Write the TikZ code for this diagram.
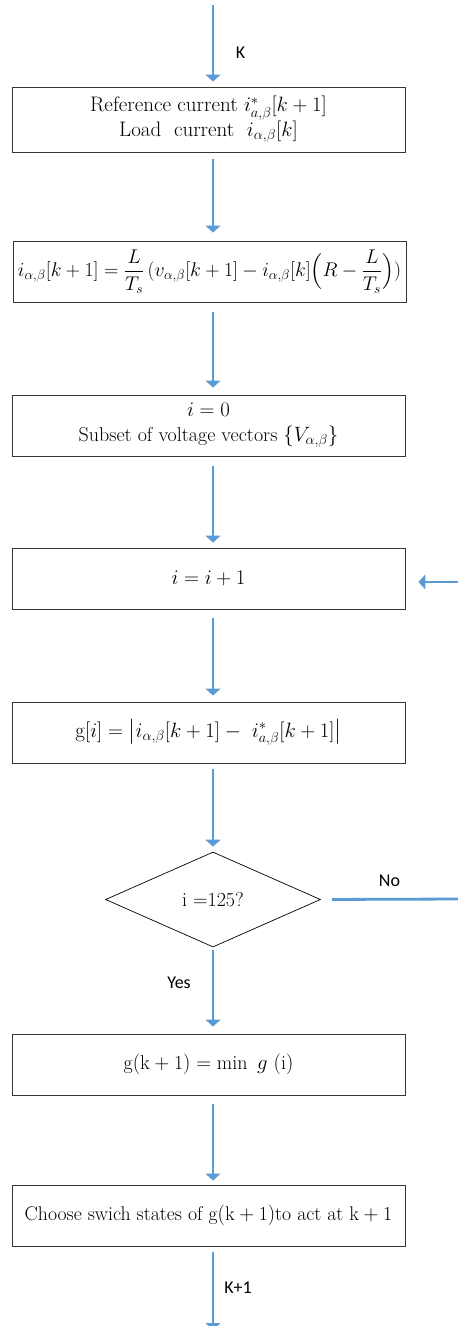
\documentclass[tikz,border=0pt]{standalone}
\usepackage{amsmath}
\usepackage{graphicx}
\usepackage{fontspec}
\newfontfamily\labelfont{Carlito}
\usetikzlibrary{arrows.meta,shapes.geometric}
\definecolor{flowblue}{RGB}{91,155,213}
\definecolor{boxgray}{RGB}{55,55,55}

\begin{document}
\begin{tikzpicture}[x=1pt,y=-1pt,
  procbox/.style={draw=boxgray, line width=0.9pt, minimum width=393pt,
    minimum height=61pt, align=center, inner sep=1pt,
    font=\fontsize{21}{25}\selectfont},
  decision/.style={draw=black, line width=0.7pt, diamond,
    minimum width=215pt, minimum height=95pt, inner sep=0pt,
    font=\fontsize{20}{22}\selectfont},
  flowline/.style={draw=flowblue, line width=2.8pt},
  flow/.style={flowline, -{Triangle[width=15pt,length=7pt]}},
  tag/.style={font=\labelfont\fontsize{18}{20}\selectfont, inner sep=1pt}]

\useasboundingbox (0,0) rectangle (458,1326);

% process steps
\node[procbox, minimum height=65pt] (ref) at (208.5,119.5)
  {Reference current $i^{*}_{a,\beta}[k+1]$\\
   Load\ \ current\ \ $i_{\alpha,\beta}[k]$};
\node[procbox] (pred) at (209.5,271.5)
  {\scalebox{0.955}{$i_{\alpha,\beta}[k+1]=\dfrac{L}{T_s}\,(v_{\alpha,\beta}[k+1]-i_{\alpha,\beta}[k]\Bigl(R-\dfrac{L}{T_s}\Bigr))$}};
\node[procbox, font=\fontsize{20}{25}\selectfont] (init) at (208.5,425.5)
  {$i=0$\\ Subset of voltage vectors $\{V_{\alpha,\beta}\}$};
\node[procbox] (incr) at (208.5,578.5) {$i=i+1$};
\node[procbox] (cost) at (208.5,732.5)
  {$\mathrm{g}[i]=\bigl|i_{\alpha,\beta}[k+1]-\ i^{*}_{a,\beta}[k+1]\bigr|$};
\node[decision] (test) at (213,899.5) {i =125?};
\node[procbox, font=\fontsize{20}{24}\selectfont] (mini) at (208.5,1064.5)
  {$\mathrm{g(k+1)}=\min\ g\ (\mathrm{i})$};
\node[procbox, font=\fontsize{19.8}{24}\selectfont] (act) at (208.5,1215.5)
  {Choose swich states of $\mathrm{g(k+1)}$to act at $\mathrm{k+1}$};

% free ends
\coordinate (start) at (213,5);
\coordinate (finish) at (213,1330);
\coordinate (noend) at (459,899);
\coordinate (loopin) at (459,582);

% main flow
\draw[flow, shorten >=5pt] (start) -- ([xshift=4.5pt]ref.north);
\draw[flow, shorten <=7pt, shorten >=8pt] ([xshift=4.5pt]ref.south) -- ([xshift=3.5pt]pred.north);
\draw[flow, shorten <=10pt, shorten >=7pt] ([xshift=3.5pt]pred.south) -- ([xshift=4.5pt]init.north);
\draw[flow, shorten <=10pt, shorten >=5pt] ([xshift=4.5pt]init.south) -- ([xshift=4.5pt]incr.north);
\draw[flow, shorten <=9pt, shorten >=6pt] ([xshift=4.5pt]incr.south) -- ([xshift=4.5pt]cost.north);
\draw[flow, shorten <=6pt, shorten >=5pt] ([xshift=4.5pt]cost.south) -- (test.north);
\draw[flow, shorten <=3pt, shorten >=7pt] (test.south) -- ([xshift=4.5pt]mini.north);
\draw[flow, shorten <=9pt, shorten >=4pt] ([xshift=4.5pt]mini.south) -- ([xshift=4.5pt]act.north);
\draw[flow, shorten <=6pt] ([xshift=4.5pt]act.south) -- (finish);

% loop back
\draw[flowline, shorten <=11pt] (test.east) -- (noend);
\draw[flow, shorten >=13pt] (loopin) -- ([yshift=-3.5pt]incr.east);

% labels
\node[tag] (lk) at (240.5,52.5) {K};
\node[tag] (lno) at (389.5,881) {No};
\node[tag] (lyes) at (179,982.5) {Yes};
\node[tag] (lk1) at (238,1287.5) {K+1};
\end{tikzpicture}
\end{document}
